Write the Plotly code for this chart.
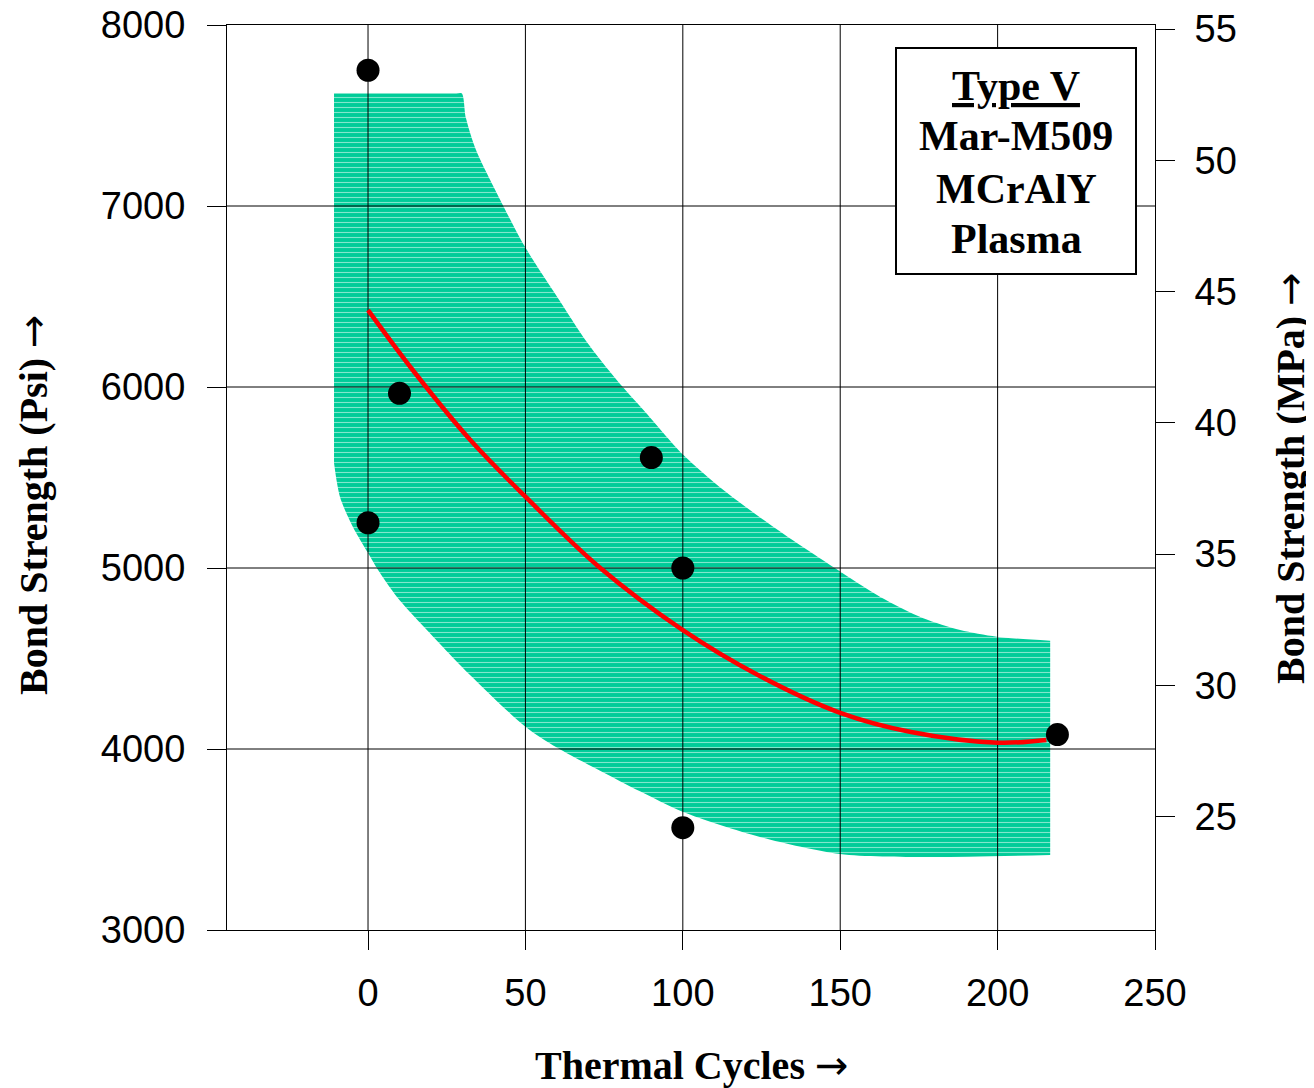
import plotly.graph_objects as go

# ---- data ----
cycles_pts = [0, 0, 10, 90, 100, 100, 219]
psi_pts = [7750, 5250, 5965, 5610, 5000, 3565, 4080]

fit_x = [0, 15, 32.5, 50, 73.3, 100, 124.3, 150, 172.5, 200, 215.5]
fit_y = [6425, 6076, 5707, 5394, 5007, 4657, 4405, 4200, 4094, 4035, 4050]

band_upper_x = [-10.8, 28.0, 29.8, 31.1, 34.3, 38.8, 49.9, 59.9, 69.5, 79.0, 87.5,
                100.2, 112.9, 130.9, 148.4, 162.6, 176.4, 188.1, 199.7, 216.7]
band_upper_y = [7622, 7622, 7622, 7486, 7309, 7144, 6773, 6503, 6249, 6039, 5873,
                5624, 5431, 5201, 4998, 4841, 4722, 4657, 4620, 4598]
band_lower_x = [-10.8, -8.9, -4.8, 0, 3.2, 9.2, 17.8, 32.4, 49.9, 60.0, 73.7, 86.4,
                100.1, 124.5, 149.9, 177.6, 216.7]
band_lower_y = [5580, 5392, 5227, 5083, 4989, 4840, 4674, 4409, 4125, 4008, 3880, 3766,
                3652, 3514, 3420, 3403, 3414]

x_ticks = [0, 50, 100, 150, 200, 250]
psi_ticks = [3000, 4000, 5000, 6000, 7000, 8000]
mpa_ticks = [25, 30, 35, 40, 45, 50, 55]
x_range = [-44.8, 250]
psi_range = [3000, 8000]
PSI_PER_MPA = 145.04

label_lines = ["Type V", "Mar-M509", "MCrAlY", "Plasma"]

GREEN = "#00CC99"
SERIF = "Liberation Serif"
SANS = "Liberation Sans"

# page offset (body margin) compensation
OFF = 8
L, T = 227 - OFF, 25 - OFF
PW, PH = 928, 905

def px_to_paper_x(px):
    return (px - OFF - L) / PW

def px_to_paper_y(py):
    return (T + PH - (py - OFF)) / PH

fig = go.Figure()

# band: lower edge, then upper edge filled to it
fig.add_trace(go.Scatter(
    x=band_lower_x, y=band_lower_y, mode="lines",
    line=dict(width=0, color=GREEN, shape="spline", smoothing=0.8),
    hoverinfo="skip", showlegend=False))
fig.add_trace(go.Scatter(
    x=band_upper_x, y=band_upper_y, mode="lines",
    line=dict(width=0, color=GREEN, shape="spline", smoothing=0.8),
    fill="tonexty", fillcolor=GREEN,
    fillpattern=dict(shape="-", bgcolor=GREEN, fgcolor="white", size=5, solidity=0.22),
    hoverinfo="skip", showlegend=False))

# grid lines (drawn above the band)
gx, gy = [], []
for t in x_ticks[:-1]:
    gx += [t, t, None]
    gy += [psi_range[0], psi_range[1], None]
for t in psi_ticks[1:-1]:
    gx += [x_range[0], x_range[1], None]
    gy += [t, t, None]
fig.add_trace(go.Scatter(x=gx, y=gy, mode="lines", line=dict(color="black", width=1),
                         hoverinfo="skip", showlegend=False))

# fitted curve
fig.add_trace(go.Scatter(x=fit_x, y=fit_y, mode="lines",
                         line=dict(color="#FF0000", width=4.5, shape="spline"),
                         showlegend=False))

# data points
fig.add_trace(go.Scatter(x=cycles_pts, y=psi_pts, mode="markers",
                         marker=dict(color="black", size=23), showlegend=False))

# invisible companion trace so the MPa axis is drawn
fig.add_trace(go.Scatter(x=cycles_pts, y=[p / PSI_PER_MPA for p in psi_pts],
                         yaxis="y2", mode="markers", marker=dict(opacity=0),
                         hoverinfo="skip", showlegend=False))

tickfont = dict(family=SANS, size=38, color="black")
fig.update_layout(
    width=1314, height=1088,
    margin=dict(l=L, r=1314 - L - PW, t=T, b=1088 - T - PH, autoexpand=False),
    paper_bgcolor="white", plot_bgcolor="white",
    showlegend=False,
    xaxis=dict(range=x_range, tickvals=x_ticks, ticks="outside", ticklen=19,
               tickcolor="black", tickwidth=1, showgrid=False, zeroline=False,
               showline=True, linecolor="black", linewidth=1, mirror=True,
               tickfont=tickfont, automargin=False, ticklabelstandoff=10,
               ticklabeloverflow="allow"),
    yaxis=dict(range=psi_range, tickvals=psi_ticks, ticks="outside", ticklen=19,
               tickcolor="black", tickwidth=1, showgrid=False, zeroline=False,
               showline=True, linecolor="black", linewidth=1, mirror=True,
               tickfont=tickfont, automargin=False, ticklabelstandoff=14,
               ticklabeloverflow="allow"),
    yaxis2=dict(range=[psi_range[0] / PSI_PER_MPA, psi_range[1] / PSI_PER_MPA],
                overlaying="y", side="right", tickvals=mpa_ticks, ticks="outside",
                ticklen=19, tickcolor="black", tickwidth=1, showgrid=False,
                zeroline=False, showline=False, tickfont=tickfont, automargin=False,
                ticklabelstandoff=12, ticklabeloverflow="allow"),
)

# axis titles
tfont = dict(family=SERIF, size=40, color="black", weight="bold")
ARROW = "<span style='font-family:DejaVu Sans;font-weight:normal'>→</span>"
fig.add_annotation(text="Thermal Cycles " + ARROW, xref="paper", yref="paper",
                   x=px_to_paper_x(691), y=px_to_paper_y(1065), showarrow=False,
                   font=tfont, xanchor="center", yanchor="middle")
fig.add_annotation(text="Bond Strength (Psi) " + ARROW, xref="paper", yref="paper",
                   x=px_to_paper_x(33), y=px_to_paper_y(505), showarrow=False,
                   font=tfont, textangle=-90, xanchor="center", yanchor="middle")
fig.add_annotation(text="Bond Strength (MPa) " + ARROW, xref="paper", yref="paper",
                   x=px_to_paper_x(1290), y=px_to_paper_y(478), showarrow=False,
                   font=tfont, textangle=-90, xanchor="center", yanchor="middle")

# label box
fig.add_shape(type="rect", xref="paper", yref="paper",
              x0=px_to_paper_x(896), x1=px_to_paper_x(1136),
              y0=px_to_paper_y(274), y1=px_to_paper_y(48),
              line=dict(color="black", width=2), fillcolor="white", layer="above")
line_centers = [86, 136, 189, 239]
for i, (txt, cy) in enumerate(zip(label_lines, line_centers)):
    f = dict(family=SERIF, size=42, color="black", weight="bold")
    if i == 0:
        f["lineposition"] = "under"
    fig.add_annotation(text=txt, xref="paper", yref="paper",
                       x=px_to_paper_x(1016), y=px_to_paper_y(cy), showarrow=False,
                       font=f, xanchor="center", yanchor="middle")

fig.write_html("out.html")
